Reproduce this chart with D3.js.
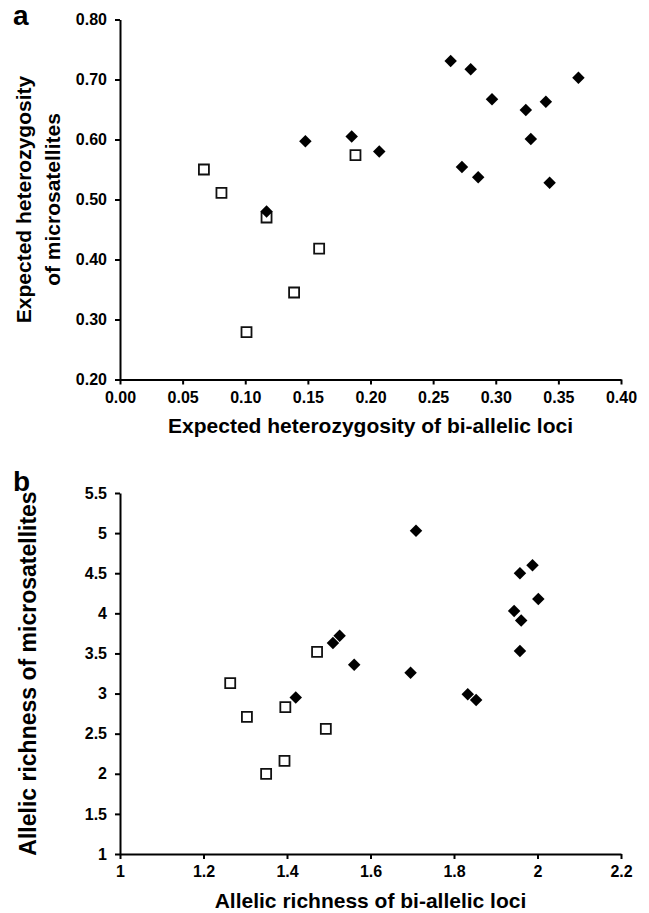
<!DOCTYPE html>
<html>
<head>
<meta charset="utf-8">
<script src="https://cdn.jsdelivr.net/npm/d3@7"></script>
<style>
    body { margin: 0; background: #fff; }
    svg text { font-family: "Liberation Sans", Arial, sans-serif; font-weight: bold; fill: #000; }
</style>
</head>
<body>
<div id="chart"></div>
<script>
// panel a: expected heterozygosity
const hetXTicks = [0, 0.05, 0.10, 0.15, 0.20, 0.25, 0.30, 0.35, 0.40];
const hetYTicks = [0.20, 0.30, 0.40, 0.50, 0.60, 0.70, 0.80];
const hetFilledX = [0.264, 0.280, 0.366, 0.297, 0.324, 0.340, 0.328, 0.273, 0.286, 0.343, 0.148, 0.185, 0.207, 0.117];
const hetFilledY = [0.731, 0.717, 0.703, 0.667, 0.649, 0.663, 0.601, 0.554, 0.537, 0.528, 0.597, 0.605, 0.580, 0.480];
const hetOpenX = [0.067, 0.081, 0.117, 0.159, 0.139, 0.101, 0.188];
const hetOpenY = [0.550, 0.511, 0.470, 0.418, 0.345, 0.279, 0.574];

// panel b: allelic richness
const richXTicks = [1, 1.2, 1.4, 1.6, 1.8, 2, 2.2];
const richYTicks = [1, 1.5, 2, 2.5, 3, 3.5, 4, 4.5, 5, 5.5];
const richFilledX = [1.709, 1.988, 1.958, 2.002, 1.944, 1.961, 1.958, 1.526, 1.510, 1.561, 1.696, 1.421, 1.833, 1.853];
const richFilledY = [5.03, 4.60, 4.50, 4.18, 4.03, 3.91, 3.53, 3.72, 3.63, 3.36, 3.26, 2.95, 2.99, 2.92];
const richOpenX = [1.472, 1.264, 1.304, 1.396, 1.493, 1.394, 1.350];
const richOpenY = [3.52, 3.13, 2.71, 2.83, 2.56, 2.16, 2.00];

const config = {
    width: 649,
    height: 913,
    plotLeft: 120,
    plotRight: 621
};

const svg = d3.select("#chart")
    .append("svg")
    .attr("width", config.width)
    .attr("height", config.height);

const drawPanel = (p) => {
    const x = d3.scaleLinear().domain(d3.extent(p.xTicks)).range([config.plotLeft, config.plotRight]);
    const y = d3.scaleLinear().domain(d3.extent(p.yTicks)).range([p.bottom, p.top]);

    const g = svg.append("g").attr("class", "panel");

    const xAxis = g.append("g")
        .attr("transform", `translate(0, ${p.bottom})`)
        .call(d3.axisBottom(x).tickValues(p.xTicks).tickFormat(p.xFormat).tickSize(5).tickSizeOuter(0).tickPadding(7));

    const yAxis = g.append("g")
        .attr("transform", `translate(${config.plotLeft}, 0)`)
        .call(d3.axisLeft(y).tickValues(p.yTicks).tickFormat(p.yFormat).tickSize(5).tickSizeOuter(0).tickPadding(8));

    [xAxis, yAxis].forEach((ax) => {
        ax.select(".domain").attr("stroke", "#000").attr("stroke-width", 2);
        ax.selectAll(".tick line").attr("stroke", "#000").attr("stroke-width", 2);
        ax.selectAll(".tick text").style("font-size", "16px");
    });

    // open squares first, filled diamonds on top
    const openPts = p.openX.map((v, i) => [v, p.openY[i]]);
    const filledPts = p.filledX.map((v, i) => [v, p.filledY[i]]);

    g.append("g")
        .selectAll("path")
        .data(openPts)
        .enter()
        .append("path")
        .attr("d", d3.symbol(d3.symbolSquare, 100))
        .attr("transform", (d) => `translate(${x(d[0])}, ${y(d[1])})`)
        .attr("fill", "#fff")
        .attr("stroke", "#111")
        .attr("stroke-width", 1.8);

    g.append("g")
        .selectAll("path")
        .data(filledPts)
        .enter()
        .append("path")
        .attr("d", d3.symbol(d3.symbolSquare, 78))
        .attr("transform", (d) => `translate(${x(d[0])}, ${y(d[1])}) rotate(45)`)
        .attr("fill", "#000");

    g.append("text")
        .attr("x", (config.plotLeft + config.plotRight) / 2)
        .attr("y", p.bottom + p.xTitleGap)
        .attr("text-anchor", "middle")
        .style("font-size", "21px")
        .text(p.xTitle);

    p.yTitle.forEach((line, i) => {
        g.append("text")
            .attr("transform", `translate(${p.yTitleX[i]}, ${(p.top + p.bottom) / 2}) rotate(-90)`)
            .attr("text-anchor", "middle")
            .style("font-size", p.yTitleSize)
            .text(line);
    });

    g.append("text")
        .attr("x", 13)
        .attr("y", p.letterY)
        .style("font-size", "28px")
        .text(p.letter);
};

drawPanel({
    letter: "a",
    letterY: 25,
    top: 19.5,
    bottom: 379.5,
    xTicks: hetXTicks,
    yTicks: hetYTicks,
    xFormat: d3.format(".2f"),
    yFormat: d3.format(".2f"),
    filledX: hetFilledX,
    filledY: hetFilledY,
    openX: hetOpenX,
    openY: hetOpenY,
    xTitle: "Expected heterozygosity of bi-allelic loci",
    xTitleGap: 53,
    yTitle: ["Expected heterozygosity", "of microsatellites"],
    yTitleX: [31, 60],
    yTitleSize: "21px"
});

drawPanel({
    letter: "b",
    letterY: 491,
    top: 493,
    bottom: 854,
    xTicks: richXTicks,
    yTicks: richYTicks,
    xFormat: (d) => d,
    yFormat: (d) => d,
    filledX: richFilledX,
    filledY: richFilledY,
    openX: richOpenX,
    openY: richOpenY,
    xTitle: "Allelic richness of bi-allelic loci",
    xTitleGap: 54,
    yTitle: ["Allelic richness of microsatellites"],
    yTitleX: [36],
    yTitleSize: "23px"
});
</script>
</body>
</html>
